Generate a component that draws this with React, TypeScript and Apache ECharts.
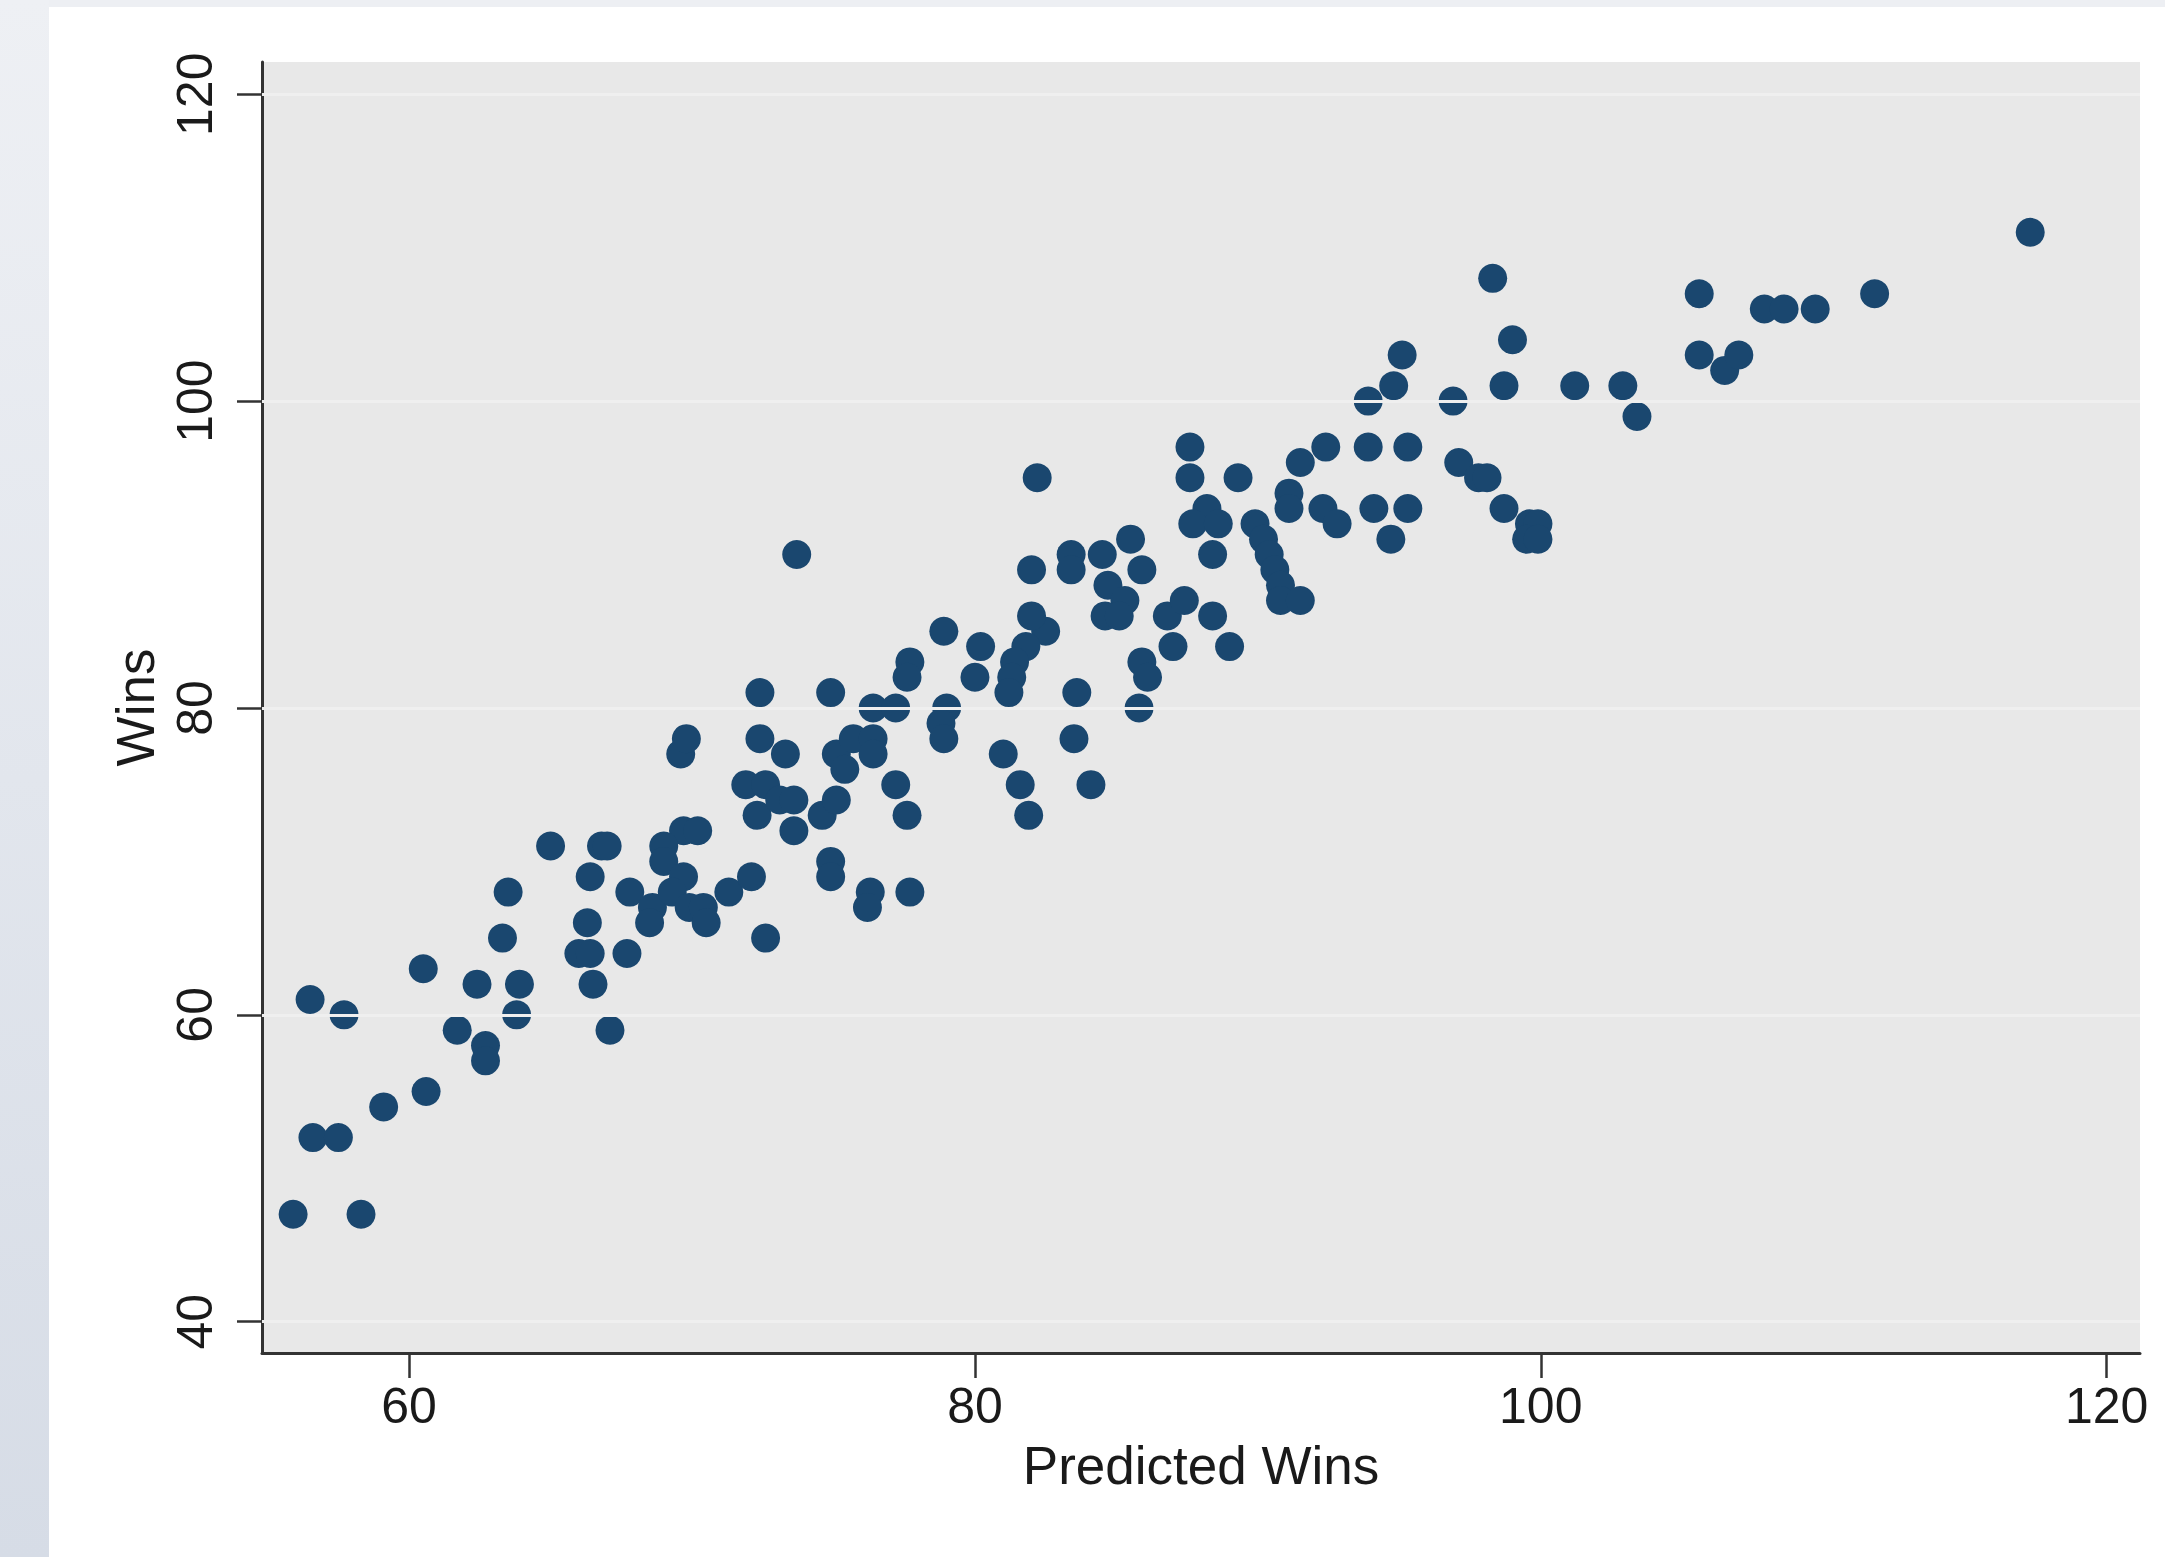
import React, { useEffect, useRef } from "react";
import * as echarts from "echarts";

const predictedWins = [
  55.9, 58.3, 56.5, 57.7, 56.6, 57.5, 59.1, 60.6, 60.5, 61.7, 62.4, 62.7, 62.7, 63.9, 63.8, 63.3, 63.5, 65.0,
  66.0, 66.4, 66.3, 66.4, 66.5, 66.8, 67.0, 67.1, 67.7, 67.8,
  69.7, 70.2, 69.0, 69.0, 69.7, 68.6, 68.5, 69.3, 69.9, 70.4, 70.5, 71.3, 72.1, 72.6, 69.6, 69.8,
  71.9, 72.6, 72.3, 73.1, 73.6, 73.6, 74.6, 75.1, 72.4, 74.9, 72.4, 73.3, 75.1, 75.7, 76.4, 76.4, 75.4,
  76.4, 77.2, 77.2, 77.6, 74.9, 74.9, 76.3, 76.2, 77.7, 77.7, 77.6, 78.9, 80.2, 80.0, 79.0, 78.8, 78.9,
  73.7, 81.0, 81.6, 81.9, 83.6, 83.5, 84.1, 82.5, 81.8, 81.4, 81.3, 81.2, 82.0, 82.0, 82.2, 83.4, 83.4,
  84.5, 85.5, 85.9, 84.7, 85.3, 84.6, 85.1, 86.8, 87.4, 88.4, 87.0, 89.0, 85.9, 86.1, 85.8,
  87.6, 87.6, 89.3, 88.2, 87.7, 88.6, 88.4, 89.9, 90.2, 90.4, 90.6, 90.8, 90.8, 91.5, 91.1, 91.1, 91.5,
  92.4, 92.3, 92.8, 93.9, 95.3, 94.1, 95.3, 94.7, 93.9, 94.8, 95.1, 96.9, 97.1, 97.8, 98.1, 98.7, 99.6,
  99.9, 99.5, 99.9, 98.3, 99.0, 98.7, 101.2, 102.9, 103.4, 105.6, 105.6, 106.5, 107.0, 107.9, 108.6,
  109.7, 111.8, 117.3,
];
const actualWins = [
  47, 47, 61, 60, 52, 52, 54, 55, 63, 59, 62, 58, 57, 62, 60, 65, 68, 71,
  64, 64, 66, 69, 62, 71, 71, 59, 64, 68,
  72, 72, 71, 70, 69, 67, 66, 68, 67, 67, 66, 68, 69, 65, 77, 78,
  75, 75, 73, 74, 74, 72, 73, 74, 81, 81, 78, 77, 77, 78, 78, 77, 76,
  80, 80, 75, 73, 70, 69, 68, 67, 68, 83, 82, 85, 84, 82, 80, 79, 78,
  90, 77, 75, 73, 81, 78, 75, 85, 84, 83, 82, 81, 86, 89, 95, 90, 89,
  90, 91, 89, 88, 87, 86, 86, 86, 87, 86, 84, 84, 83, 82, 80,
  97, 95, 95, 93, 92, 92, 90, 92, 91, 90, 89, 88, 87, 87, 94, 93, 96,
  97, 93, 92, 97, 97, 93, 93, 91, 100, 101, 103, 100, 96, 95, 95, 93, 92,
  92, 91, 91, 108, 104, 101, 101, 101, 99, 107, 103, 102, 103, 106, 106,
  106, 107, 111,
];
const xTicks = [60, 80, 100, 120];
const yTicks = [40, 60, 80, 100, 120];

export default function App() {
  const ref = useRef<HTMLDivElement>(null);

  useEffect(() => {
    const chart = echarts.init(ref.current as HTMLDivElement, null, { renderer: "svg" });
    const points = predictedWins.map((x, i) => [x, actualWins[i]]);
    const font = "'Liberation Sans', Arial, Helvetica, sans-serif";

    chart.setOption({
      animation: false,
      backgroundColor: "#ffffff",
      graphic: [
        {
          type: "rect",
          silent: true,
          z: -10,
          shape: { x: 0, y: 0, width: 2165, height: 7 },
          style: { fill: "#edeff3" },
        },
        {
          type: "rect",
          silent: true,
          z: -10,
          shape: { x: 0, y: 0, width: 49, height: 1557 },
          style: {
            fill: new echarts.graphic.LinearGradient(0, 0, 0, 1, [
              { offset: 0, color: "#eef0f4" },
              { offset: 1, color: "#d6dce6" },
            ]),
          },
        },
      ],
      grid: {
        left: 262,
        right: 25,
        top: 62,
        bottom: 204,
        show: true,
        backgroundColor: "#e8e8e8",
        borderWidth: 0,
      },
      xAxis: {
        type: "value",
        min: 54.8,
        max: 121.18,
        name: "Predicted Wins",
        nameLocation: "middle",
        nameGap: 86,
        nameTextStyle: { fontFamily: font, fontSize: 53, color: "#1a1a1a" },
        axisLine: { show: true, onZero: false, lineStyle: { color: "#333333", width: 3 } },
        axisTick: {
          show: true,
          length: 25,
          customValues: xTicks,
          lineStyle: { color: "#333333", width: 2.5 },
        },
        axisLabel: {
          show: true,
          customValues: xTicks,
          margin: 28,
          fontFamily: font,
          fontSize: 50,
          color: "#1a1a1a",
        },
        splitLine: { show: false },
      },
      yAxis: {
        type: "value",
        min: 37.96,
        max: 122.1,
        name: "Wins",
        nameLocation: "middle",
        nameGap: 100,
        nameRotate: 90,
        nameTextStyle: { fontFamily: font, fontSize: 53, color: "#1a1a1a" },
        axisLine: { show: true, onZero: false, lineStyle: { color: "#333333", width: 3 } },
        axisTick: {
          show: true,
          length: 25,
          customValues: yTicks,
          lineStyle: { color: "#333333", width: 2.5 },
        },
        axisLabel: {
          show: true,
          customValues: yTicks,
          rotate: 90,
          margin: 42,
          fontFamily: font,
          fontSize: 50,
          color: "#1a1a1a",
        },
        splitLine: { show: false },
      },
      series: [
        {
          type: "scatter",
          z: 1,
          data: [],
          silent: true,
          markLine: {
            silent: true,
            symbol: "none",
            label: { show: false },
            lineStyle: { color: "#efefef", width: 3, type: "solid" },
            data: yTicks.map((v) => ({ yAxis: v })),
          },
        },
        {
          type: "scatter",
          z: 3,
          symbol: "circle",
          symbolSize: 29,
          clip: false,
          itemStyle: { color: "#1a476f", opacity: 1 },
          data: points,
        },
      ],
    });

    return () => chart.dispose();
  }, []);

  return (
    <div
      ref={ref}
      style={{ position: "fixed", left: 0, top: 0, width: 2165, height: 1557 }}
    />
  );
}
